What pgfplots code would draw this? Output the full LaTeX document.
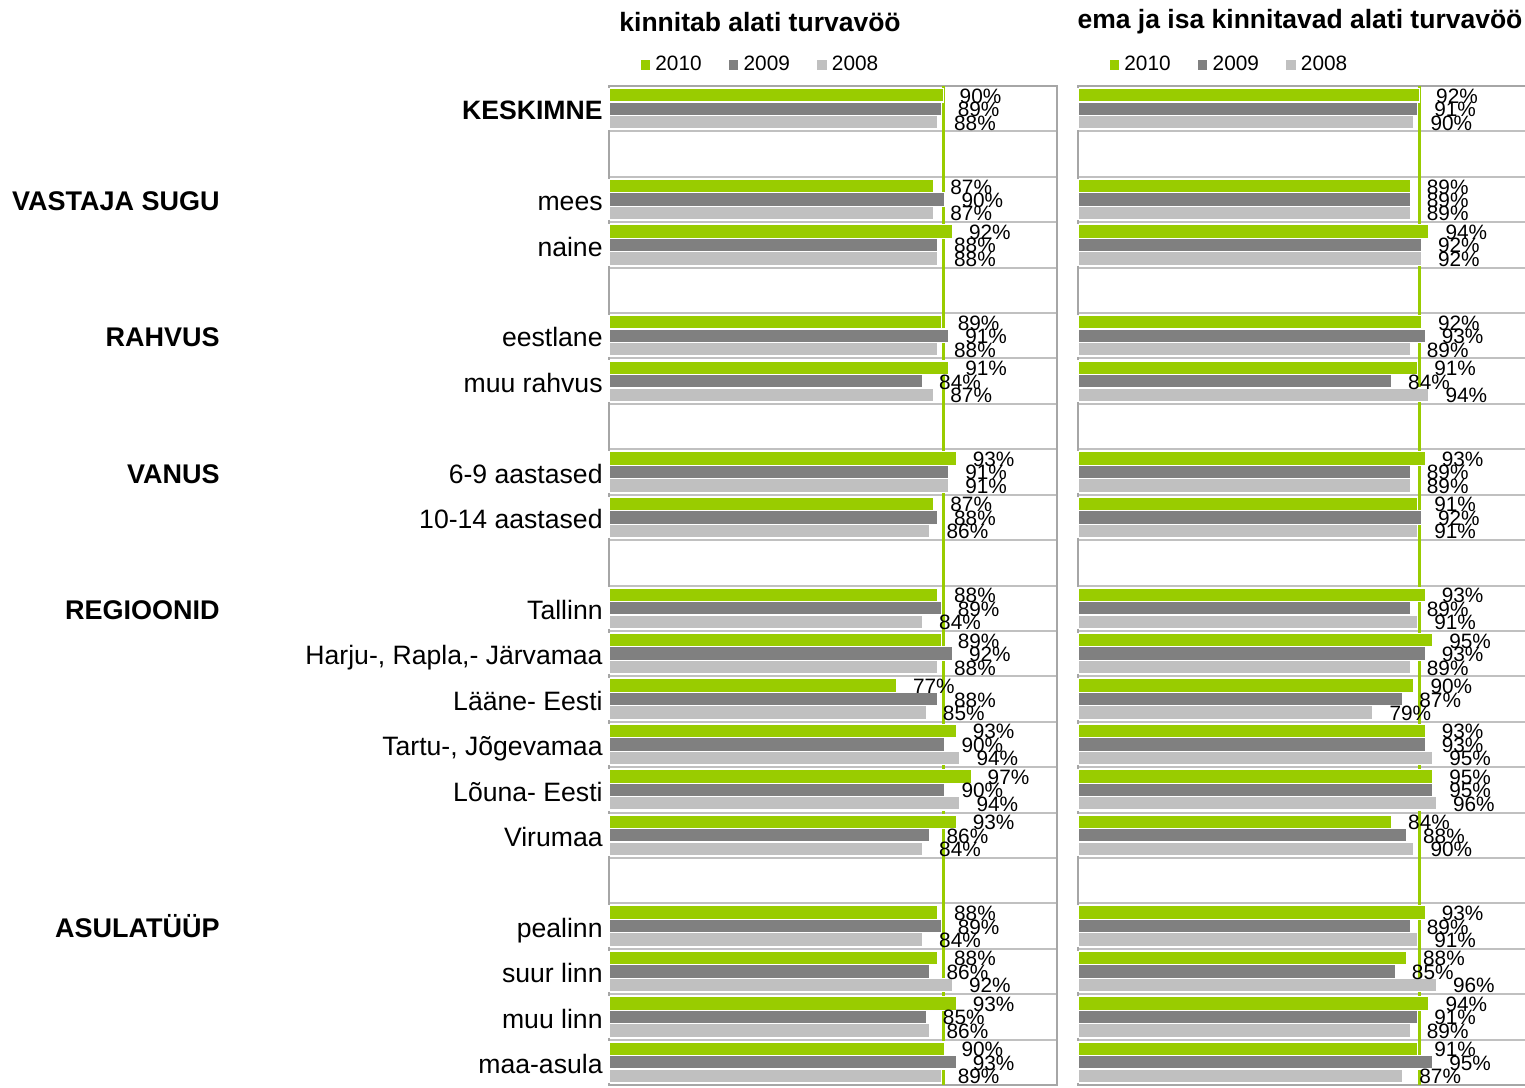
\documentclass[border=0pt]{standalone}
\usepackage{fontspec}
\setmainfont{Liberation Sans}
\usepackage{pgfplots}
\pgfplotsset{compat=1.18}
\usepackage{pgfplotstable}

\definecolor{barGreen}{HTML}{99CC00}
\definecolor{barDark}{HTML}{808080}
\definecolor{barLight}{HTML}{C0C0C0}
\definecolor{frameGray}{HTML}{A6A6A6}
\definecolor{gridGray}{HTML}{C0C0C0}

% row = position from the top (blank rows are skipped)
\pgfplotstableread{
row  y2010 y2009 y2008
0    89.5  89    88
2    87    90    87
3    92    88    88
5    89    91    88
6    91    84    87
8    93    91    91
9    87    88    86
11   88    89    84
12   89    92    88
13   77    88    85
14   93    90    94
15   97    90    94
16   93    86    84
18   88    89    84
19   88    86    92
20   93    85    86
21   90    93    89
}\seatbelt

\pgfplotstableread{
row  y2010 y2009 y2008
0    91.5  91    90
2    89    89    89
3    94    92    92
5    92    93    89
6    91    84    94
8    93    89    89
9    91    92    91
11   93    89    91
12   95    93    89
13   90    87    79
14   93    93    95
15   95    95    96
16   84    88    90
18   93    89    91
19   88    85    96
20   94    91    89
21   91    95    87
}\parents

\newcommand{\catfont}{\fontsize{13.3}{15}\selectfont}
\newcommand{\groupfont}{\fontsize{13.5}{15}\selectfont}
\newcommand{\smallfont}{\fontsize{10.4}{12}\selectfont}

\pgfplotsset{
  panel/.style={
    scale only axis,
    width=224pt, height=499.5pt,
    xmin=0, xmax=120,
    ymin=-0.5, ymax=21.5,
    y dir=reverse,
    xtick=\empty,
    ytick={0,...,21},
    minor ytick={0.5,1.5,...,20.5},
    yminorgrids=true,
    minor grid style={draw=gridGray, line width=1pt},
    major tick length=0pt, minor tick length=0pt,
    axis line style={draw=frameGray, line width=1pt},
    clip=false,
    bar width=0.297,
    legend columns=3,
    legend style={at={(0,1)}, anchor=south west, xshift=15pt, yshift=4pt,
      draw=none, fill=none, font=\smallfont, inner sep=0pt,
      /tikz/every even column/.append style={column sep=11pt}},
    legend image code/.code={\fill[##1] (0pt,-2.7pt) rectangle (5.4pt,2.7pt);},
    title style={font=\bfseries\fontsize{13.25}{15}\selectfont, inner sep=0pt},
  },
  bars/.style={xbar, bar shift=0, draw=white, line width=0.6pt,
    point meta=x,
    nodes near coords={\pgfmathprintnumber[fixed, precision=0, assume math mode=true]{\pgfplotspointmeta}\%},
    every node near coord/.append style={font=\smallfont, text=black, anchor=west, inner sep=0pt, xshift=8pt, yshift=-0.4pt}},
  b2010/.style={bars, fill=barGreen},
  b2009/.style={bars, fill=barDark},
  b2008/.style={bars, fill=barLight},
}

\begin{document}
\begin{tikzpicture}
\path[use as bounding box] (0,0) rectangle (762.5pt,-543.5pt);

% left panel
\begin{axis}[panel,
  at={(304.5pt,-43pt)}, anchor=north west,
  title={kinnitab alati turvavöö},
  title style={at={(0,1)}, anchor=west, xshift=5pt, yshift=26pt},
  yticklabels={\textbf{KESKIMNE}, , mees, naine, , eestlane, muu rahvus, ,
    6-9 aastased, 10-14 aastased, , Tallinn, {Harju-, Rapla,- Järvamaa},
    Lääne- Eesti, {Tartu-, Jõgevamaa}, Lõuna- Eesti, Virumaa, ,
    pealinn, suur linn, muu linn, maa-asula},
  yticklabel style={font=\catfont, anchor=base east, inner sep=0pt, xshift=-3pt, yshift=-5.6pt},
]
\addplot[barGreen, line width=1.5pt, forget plot] coordinates {(89.5,-0.5) (89.5,21.5)};
\addplot[b2010] table[x=y2010, y expr=\thisrow{row}-0.297] {\seatbelt};
\addplot[b2009] table[x=y2009, y=row] {\seatbelt};
\addplot[b2008] table[x=y2008, y expr=\thisrow{row}+0.297] {\seatbelt};
\legend{2010, 2009, 2008}
\begin{scope}[every node/.style={font=\bfseries\groupfont, anchor=base east, inner sep=0pt, yshift=-5.6pt}]
\node at ([xshift=-194.5pt]axis cs:0,2) {VASTAJA SUGU};
\node at ([xshift=-194.5pt]axis cs:0,5) {RAHVUS};
\node at ([xshift=-194.5pt]axis cs:0,8) {VANUS};
\node at ([xshift=-194.5pt]axis cs:0,11) {REGIOONID};
\node at ([xshift=-194.5pt]axis cs:0,18) {ASULATÜÜP};
\end{scope}
\end{axis}

% right panel
\begin{axis}[panel,
  at={(539pt,-43pt)}, anchor=north west,
  title={ema ja isa kinnitavad alati turvavöö},
  title style={at={(0.5,1)}, anchor=center, xshift=-1pt, yshift=26pt},
  yticklabels={},
]
\addplot[barGreen, line width=1.5pt, forget plot] coordinates {(91.5,-0.5) (91.5,21.5)};
\addplot[b2010] table[x=y2010, y expr=\thisrow{row}-0.297] {\parents};
\addplot[b2009] table[x=y2009, y=row] {\parents};
\addplot[b2008] table[x=y2008, y expr=\thisrow{row}+0.297] {\parents};
\legend{2010, 2009, 2008}
\end{axis}
\end{tikzpicture}
\end{document}
